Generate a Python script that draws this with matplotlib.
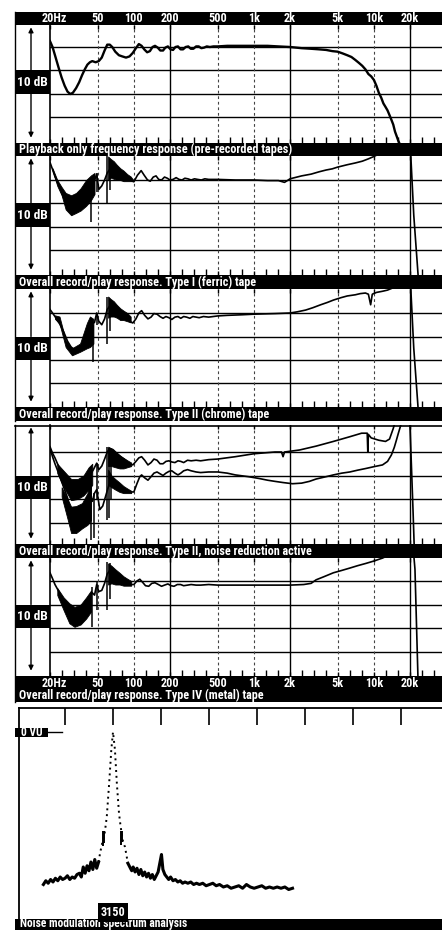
import numpy as np
import matplotlib.pyplot as plt
from matplotlib import font_manager
from matplotlib.patches import Rectangle

#the sheet uses a bold condensed face, take the narrowest one we can find
def pick_font():
    names = {f.name for f in font_manager.fontManager.ttflist}
    for fam in ['Liberation Sans Narrow', 'Roboto Condensed', 'Open Sans Condensed',
                'Noto Sans Condensed', 'DejaVu Sans Condensed']:
        if fam in names:
            return fam, 'normal'
    for f in font_manager.fontManager.ttflist:
        if 'condensed' in str(f.stretch).lower() or 'Narrow' in f.fname or 'Condensed' in f.fname:
            return f.name, f.stretch
    return 'Roboto', 'normal'

FONT, STRETCH = pick_font()
plt.rcParams['font.family'] = [FONT, 'DejaVu Sans']
plt.rcParams['font.stretch'] = STRETCH
plt.rcParams['font.weight'] = 'bold'

#-------------
#data
#-------------

FREQ_TICKS  = [20, 50, 100, 200, 500, 1000, 2000, 5000, 10000, 20000]
FREQ_LABELS = ['20Hz', '50', '100', '200', '500', '1k', '2k', '5k', '10k', '20k']
SOLID_GRID  = [200, 2000, 20000]
DASHED_GRID = [50, 100, 500, 1000, 5000, 10000]
THIRD_OCT   = [20, 25, 31.5, 40, 50, 63, 80, 100, 125, 160, 200, 250, 315, 400,
               500, 630, 800, 1000, 1250, 1600, 2000, 2500, 3150, 4000, 5000,
               6300, 8000, 10000, 12500, 16000, 20000, 25000, 31500]
DB_GRID     = [0, -2, -4, -6]

CAPTIONS = ['Playback only frequency response (pre-recorded tapes)',
            'Overall record/play response. Type I (ferric) tape',
            'Overall record/play response. Type II (chrome) tape',
            'Overall record/play response. Type II, noise reduction active',
            'Overall record/play response. Type IV (metal) tape']
NM_CAPTION = 'Noise modulation spectrum analysis'

#panel 1: playback only
PB_F  = [20, 21, 22, 23.5, 25, 26.5, 28, 29.5, 31, 33, 35, 37, 39, 41, 43, 45, 48, 51,
         54, 57, 60, 63, 66, 70, 75, 80, 86, 92, 98, 104, 110, 116, 122, 129, 136, 143,
         150, 158, 166, 175, 183, 192, 202, 212, 222, 233, 245, 257, 270, 284, 298, 313,
         330, 347, 365, 385, 405, 430, 460, 500, 600, 800, 1000, 1300, 1600, 2000, 2500,
         3000, 3500, 4000, 4500, 5000, 5500, 6000, 6500, 7000, 7500, 8000, 8500, 9000,
         9500, 10000, 10500, 11000, 11500, 12000, 12500, 13000, 13500, 14000, 14500,
         15000, 15500, 16000, 16500]
PB_DB = [0.5, 0.0, -0.7, -1.7, -2.6, -3.3, -3.8, -4.0, -3.9, -3.5, -3.0, -2.4, -1.9,
         -1.5, -1.3, -1.2, -1.3, -1.2, -0.9, -0.3, 0.2, 0.2, 0.0, -0.4, -0.7, -0.8, -0.9,
         -0.8, -0.5, -0.1, 0.25, 0.1, -0.2, -0.45, -0.35, 0.0, 0.1, -0.05, -0.3, -0.3,
         -0.05, 0.05, -0.2, -0.25, 0.0, 0.05, -0.2, -0.2, 0.0, 0.05, -0.15, -0.15, 0.05,
         0.05, -0.1, -0.05, 0.05, 0.0, 0.05, 0.05, 0.1, 0.1, 0.1, 0.1, 0.05, 0.0, -0.1,
         -0.15, -0.2, -0.25, -0.35, -0.4, -0.55, -0.7, -0.85, -1.1, -1.35, -1.6, -1.9,
         -2.3, -2.5, -2.8, -3.3, -3.9, -4.3, -4.8, -5.1, -5.4, -5.8, -6.2, -6.6, -7.2,
         -7.6, -8.0, -8.3]

#panel 2: type I ferric
FE_F  = [20, 21, 22, 24, 26, 28, 30, 33, 36, 40, 43, 46, 49, 51, 54, 57, 60, 63, 67, 72,
         78, 85, 92, 100, 107, 115, 122, 130, 137, 145, 153, 161, 170, 180, 190, 200,
         212, 225, 238, 252, 266, 282, 300, 320, 340, 365, 390, 420, 500, 700, 1000,
         1300, 1600, 1800, 1900, 2000, 2500, 3000, 3500, 4000, 4500, 5000, 6000, 7000,
         8000, 9000, 10000, 12000, 15000, 18000, 20000, 20300, 21500, 23400, 24500]
FE_DB = [1.5, 0.9, 0.3, -0.6, -1.5, -2.0, -2.2, -2.1, -1.8, -1.1, -0.7, -0.3, 0.5,
         -0.8, -0.5, 0.0, 0.6, 0.9, 0.8, 0.6, 0.4, 0.2, 0.0, -0.15, 0.4, 0.8, 0.4, 0.0,
         -0.1, 0.25, 0.35, 0.05, 0.0, 0.25, 0.15, 0.0, 0.05, 0.2, 0.05, 0.0, 0.15, 0.1,
         0.0, 0.1, 0.05, 0.0, 0.1, 0.05, 0.05, 0.0, 0.0, -0.05, -0.05, -0.2, -0.05, 0.1,
         0.35, 0.5, 0.7, 0.85, 0.95, 1.1, 1.3, 1.45, 1.6, 1.8, 2.0, 2.4, 2.8, 2.9, 2.6,
         2.1, -3.0, -8.2, -10.0]
FE_BAND_F  = [21, 23, 25, 27, 30, 33, 36, 40, 44, 47]
FE_BAND_HI = [1.0, 0.0, -0.6, -1.1, -1.3, -1.1, -0.7, 0.0, 0.4, 0.6]
FE_BAND_LO = [0.8, -0.5, -1.3, -2.5, -3.0, -2.8, -2.6, -2.2, -1.7, -1.2]
FE_BAND2_F  = [61, 64, 68, 72, 77, 82, 88, 94, 99]
FE_BAND2_HI = [2.0, 1.8, 1.6, 1.3, 1.0, 0.8, 0.5, 0.3, 0.0]
FE_BAND2_LO = [0.0, 0.2, 0.1, 0.0, 0.0, -0.1, -0.1, -0.1, -0.1]
FE_SPIKE_F  = [44.3, 49, 60, 63]
FE_SPIKE_LO = [-3.6, -1.0, -2.0, -0.85]
FE_SPIKE_HI = [-0.5, 0.6, 2.0, 1.7]

#panel 3: type II chrome
CR_F  = [20, 21, 22, 24, 26, 28, 30, 33, 36, 40, 43, 45, 47, 49, 51, 54, 57, 60, 63, 67,
         72, 78, 85, 92, 98, 104, 110, 116, 123, 131, 139, 147, 156, 165, 175, 185, 196,
         207, 220, 233, 246, 260, 275, 293, 310, 330, 350, 380, 420, 500, 600, 800,
         1000, 1500, 2000, 2300, 2700, 3100, 3600, 4100, 4600, 5300, 6000, 7000, 7700,
         8500, 9000, 9400, 9700, 10500, 11800, 13000, 14100, 16000, 19000, 20300, 21500,
         23400, 24500]
CR_DB = [0.3, 0.0, -0.3, -0.9, -1.6, -2.4, -2.9, -3.2, -3.0, -2.2, -1.4, -0.9, -0.8,
         0.0, -0.7, -1.0, -0.5, 0.3, 0.6, 0.5, 0.2, -0.1, -0.4, -0.7, -0.85, -0.5, 0.0,
         0.2, -0.2, -0.5, -0.35, -0.05, -0.1, -0.3, -0.45, -0.3, -0.4, -0.55, -0.35,
         -0.3, -0.45, -0.3, -0.35, -0.45, -0.3, -0.35, -0.4, -0.3, -0.35, -0.25, -0.2,
         -0.15, -0.1, -0.05, 0.0, 0.1, 0.25, 0.45, 0.7, 0.9, 1.1, 1.3, 1.45, 1.55, 1.65,
         1.7, 1.6, 0.7, 1.6, 1.75, 1.85, 1.95, 2.1, 2.5, 2.8, 2.1, -3.0, -8.2, -10.0]
CR_BAND_F  = [22, 24, 27, 30.5, 35.6, 40.6, 43, 46]
CR_BAND_HI = [-0.2, -0.3, -2.3, -3.0, -2.6, -0.85, -0.3, -0.5]
CR_BAND_LO = [-0.5, -0.9, -2.9, -3.6, -3.3, -3.0, -2.9, -2.6]
CR_BAND2_F  = [61, 64, 68, 72, 77, 82, 88, 94]
CR_BAND2_HI = [1.4, 1.2, 1.0, 0.7, 0.4, 0.2, 0.0, -0.3]
CR_BAND2_LO = [-0.4, -0.3, -0.3, -0.4, -0.6, -0.6, -0.7, -0.8]
CR_SPIKE_F  = [45.4, 49, 60, 63]
CR_SPIKE_LO = [-4.2, -1.0, -2.6, -1.5]
CR_SPIKE_HI = [-1.0, 0.0, 1.4, 1.2]

#panel 4: type II with noise reduction, two traces
NRA_F  = [20, 21, 22, 24, 26, 28, 30, 33, 36, 40, 43, 46, 49, 51, 54, 57, 60, 63, 67,
          72, 78, 85, 92, 98, 104, 110, 116, 123, 131, 139, 147, 156, 165, 175, 185,
          196, 207, 220, 233, 246, 260, 280, 300, 330, 360, 420, 500, 700, 1000, 1500,
          1700, 1750, 1800, 2400, 3300, 4600, 6300, 7900, 8800, 8900, 9000, 9500, 11000,
          12500, 13500, 14500, 15500, 19500, 20000, 21200, 22000]
NRA_DB = [0.45, -0.1, -0.5, -1.4, -2.0, -2.6, -3.1, -3.2, -3.0, -2.6, -2.0, -1.5,
          -0.95, -1.5, -1.2, -0.6, 0.0, 0.3, 0.2, -0.1, -0.4, -0.7, -1.0, -1.1, -0.8,
          -0.5, -0.4, -0.7, -1.1, -0.9, -0.6, -0.7, -1.0, -1.0, -0.8, -0.75, -0.85,
          -0.9, -0.75, -0.8, -0.9, -0.7, -0.75, -0.7, -0.75, -0.65, -0.6, -0.4, -0.15,
          0.0, 0.0, -0.4, 0.0, 0.17, 0.5, 0.9, 1.3, 1.6, 1.6, 0.0, 1.5, 1.2, 1.0, 0.9,
          1.1, 2.0, 3.0, 3.0, 2.2, -5.0, -10.0]
NRB_F  = [20, 21, 22, 24, 26, 28, 30, 33, 36, 40, 43, 45, 47, 49, 52, 55, 58, 62, 66,
          72, 78, 85, 92, 100, 106, 112, 116, 123, 131, 139, 147, 156, 165, 175, 185,
          196, 207, 220, 233, 246, 260, 280, 300, 330, 360, 420, 500, 600, 700, 900,
          1100, 1300, 1500, 1750, 2100, 2500, 2900, 3300, 4000, 4600, 5400, 6300, 7300,
          8600, 10000, 11800, 13000, 14000, 14800, 15400, 16000, 17000]
NRB_DB = [0.3, -0.4, -1.0, -2.0, -3.0, -3.9, -5.4, -5.7, -5.5, -5.0, -3.6, -4.2, -3.5,
          -3.2, -4.9, -4.6, -3.8, -2.8, -2.5, -2.8, -3.0, -3.2, -3.4, -3.4, -2.7, -2.1,
          -1.95, -2.2, -2.4, -2.1, -1.8, -1.7, -1.85, -2.0, -1.8, -1.65, -1.6, -1.8,
          -1.95, -1.8, -1.6, -1.5, -1.6, -1.7, -1.75, -1.7, -1.7, -1.8, -1.95, -2.1,
          -2.25, -2.4, -2.5, -2.6, -2.7, -2.65, -2.5, -2.3, -2.1, -1.95, -1.8, -1.7,
          -1.55, -1.4, -1.25, -1.1, -0.8, -0.25, 0.4, 1.0, 1.6, 2.5]
NRA_BAND_F  = [23, 26, 30, 34, 38, 42, 45]
NRA_BAND_HI = [-1.0, -1.6, -2.3, -2.3, -2.0, -1.3, -1.0]
NRA_BAND_LO = [-1.8, -3.0, -4.1, -4.0, -3.7, -3.2, -2.8]
NRB_BAND_F  = [25, 28, 30, 33, 37, 41, 44]
NRB_BAND_HI = [-3.0, -4.0, -4.65, -4.6, -4.35, -3.5, -2.4]
NRB_BAND_LO = [-3.8, -5.7, -6.9, -6.9, -6.5, -6.2, -5.8]
NRA_BAND2_F  = [61, 65, 70, 76, 82, 88, 95]
NRA_BAND2_HI = [0.45, 0.3, 0.0, -0.3, -0.5, -0.7, -0.9]
NRA_BAND2_LO = [-1.2, -1.2, -1.3, -1.4, -1.4, -1.3, -1.2]
NRB_BAND2_F  = [61, 65, 70, 76, 82, 88, 95]
NRB_BAND2_HI = [-1.5, -2.0, -2.3, -2.6, -2.9, -3.1, -3.3]
NRB_BAND2_LO = [-2.8, -3.0, -3.2, -3.4, -3.5, -3.5, -3.5]
NR_SPIKE_F  = [44.3, 46.5, 49, 60, 62, 64]
NR_SPIKE_LO = [-7.5, -7.3, -4.0, -5.8, -5.6, -4.0]
NR_SPIKE_HI = [-2.5, -3.5, -0.95, 0.45, 0.3, 0.2]

#panel 5: type IV metal
ME_F  = [20, 21, 22, 24, 26, 28, 30, 33, 36, 40, 43, 45, 47, 49, 51, 54, 57, 60, 63, 67,
         72, 78, 85, 92, 100, 106, 112, 118, 125, 133, 141, 150, 160, 170, 180, 192, 204,
         216, 230, 245, 260, 280, 300, 330, 360, 420, 500, 700, 1000, 1500, 2000, 2600,
         3000, 3300, 3800, 4600, 5400, 6300, 7300, 8600, 10000, 11800, 14000, 18000,
         21500, 22000, 23300, 24500]
ME_DB = [0.7, 0.2, -0.3, -1.0, -1.7, -2.3, -2.7, -2.9, -2.7, -2.0, -1.4, -1.0, -1.2,
         -0.3, -0.9, -0.8, -0.2, 0.6, 0.9, 0.7, 0.4, 0.1, -0.1, -0.3, -0.3, 0.0, 0.15,
         -0.1, -0.4, -0.45, -0.2, -0.15, -0.3, -0.45, -0.35, -0.25, -0.4, -0.45, -0.3,
         -0.3, -0.4, -0.35, -0.3, -0.35, -0.35, -0.3, -0.35, -0.35, -0.35, -0.35, -0.35,
         -0.3, -0.2, 0.1, 0.35, 0.7, 0.9, 1.1, 1.3, 1.5, 1.7, 1.95, 2.3, 2.6, 2.2, 1.0,
         -8.2, -10.0]
ME_BAND_F  = [23, 26, 29, 32, 36, 40, 44]
ME_BAND_HI = [-0.6, -1.4, -1.9, -2.2, -2.0, -1.4, -0.8]
ME_BAND_LO = [-1.2, -2.5, -3.6, -3.9, -3.7, -3.2, -2.6]
ME_BAND2_F  = [61, 65, 70, 76, 82, 88, 95]
ME_BAND2_HI = [1.5, 1.3, 1.0, 0.7, 0.4, 0.2, 0.0]
ME_BAND2_LO = [-0.3, -0.2, -0.3, -0.3, -0.4, -0.4, -0.4]
ME_SPIKE_F  = [45, 49.5, 60, 63]
ME_SPIKE_LO = [-3.9, -2.5, -2.5, -1.5]
ME_SPIKE_HI = [-0.5, 0.0, 1.6, 1.5]

#panel 6: noise modulation spectrum (x in graticule divisions, 0 = 3150 Hz)
NM_TICKS = [-1, 0, 1, 2, 3, 4, 5, 6]
NM_CENTRE_LABEL = '3150'
NM_LEFT_X  = [-1.45, -1.40, -1.35, -1.30, -1.25, -1.20, -1.15, -1.10, -1.05, -1.00,
              -0.95, -0.90, -0.85, -0.80, -0.75, -0.70, -0.66, -0.62, -0.58, -0.54,
              -0.50, -0.46, -0.42, -0.38, -0.34, -0.30]
NM_LEFT_DB = [-61, -59.5, -60.5, -59, -60, -58.5, -59.5, -58, -59, -58.5, -57.5, -59,
              -58, -58.5, -57, -56.5, -58, -54, -56.5, -53.5, -55.5, -52, -55, -51,
              -54.5, -52]
NM_PEAK_X  = [-0.30, -0.27, -0.22, -0.17, -0.13, -0.08, -0.035, 0.0, 0.04, 0.08, 0.125,
              0.16, 0.21, 0.25, 0.31]
NM_PEAK_DB = [-52, -48.5, -44, -40, -34, -20.5, -7, 0, -7, -20.5, -32.5, -38, -44, -46,
              -52.5]
NM_V_X    = [-0.21, -0.19, 0.17, 0.19]
NM_V_TOP  = [-39.5, -39.5, -39.5, -39.5]
NM_V_BOT  = [-45.5, -44.5, -45.0, -44.0]
NM_RIGHT_X  = [0.31, 0.35, 0.39, 0.42, 0.46, 0.50, 0.54, 0.58, 0.62, 0.66, 0.70, 0.74,
               0.78, 0.82, 0.86, 0.90, 0.94, 0.98, 1.01, 1.04, 1.08, 1.12, 1.16, 1.20,
               1.25, 1.30, 1.35, 1.40, 1.45, 1.50, 1.56, 1.62, 1.68, 1.74, 1.80, 1.87,
               1.94, 2.01, 2.08, 2.15, 2.22, 2.30, 2.38, 2.46, 2.54, 2.62, 2.70, 2.78,
               2.86, 2.94, 3.02, 3.10, 3.18, 3.26, 3.34, 3.42, 3.50, 3.58, 3.66, 3.74]
NM_RIGHT_DB = [-52.5, -54, -55.5, -54, -56, -54.5, -57, -55, -57.5, -56, -58, -56.5,
               -58.5, -57, -59, -57.5, -56, -52, -49, -55, -57, -58, -59, -58, -59.5,
               -59, -60, -59.5, -60.5, -60, -60.5, -60, -61, -60.5, -61, -60.5, -61.5,
               -61, -60.5, -61.5, -61, -62, -61.5, -62.5, -62, -61.5, -62.5, -61, -62,
               -62.5, -62, -61.5, -62.5, -62, -62.5, -62, -62.5, -62, -63, -62.5]


#-------------
#layout (pixels of a 442 x 930 sheet)
#-------------
W, H = 442, 930
X_FRAME = 15
X_PLOT = 50           #20 Hz line
PX_PER_DECADE = 120
DB_PER_PX = 2 / 23.5
F_MAX = 20 * 10 ** ((W - X_PLOT) / PX_PER_DECADE)

#(top, bottom, y of 0 dB line)
PANELS = [(25, 143, 47), (156, 275, 180), (289, 407, 313), (425, 544, 452), (558, 676, 581)]
BARS = [(12, 25), (143, 156), (275, 289), (407, 421), (544, 558), (676, 702), (919, 930)]
CAPTION_Y = [149.5, 282, 414, 551, 695.5]
CAPTION_W = [272, 237, 250, 294, 245]   #printed width of each caption

fig = plt.figure(figsize=(W / 100, H / 100), dpi=100)
renderer = fig.canvas.get_renderer()

def px_axes(x0, y0, x1, y1, **kw):
    return fig.add_axes([x0 / W, 1 - y1 / H, (x1 - x0) / W, (y1 - y0) / H], **kw)

def fit_width(t, width):
    #scale the font so the text is as wide as on the sheet
    w = t.get_window_extent(renderer).width
    t.set_fontsize(t.get_fontsize() * width / w)
    return width / w

#background sheet with black caption bars
ov = px_axes(0, 0, W, H, zorder=0)
ov.set_xlim(0, W)
ov.set_ylim(H, 0)
ov.axis('off')
for y0, y1 in BARS:
    ov.add_patch(Rectangle((X_FRAME, y0), W - X_FRAME, y1 - y0, color='black', lw=0))
ov.plot([X_FRAME, X_FRAME], [12, 421], color='black', lw=1.0)
ov.plot([X_FRAME, X_FRAME], [425, 702], color='black', lw=1.0)
ov.plot([X_FRAME, W], [425.5, 425.5], color='black', lw=1.2)
scales = []
for text, y, wid in zip(CAPTIONS, CAPTION_Y, CAPTION_W):
    t = ov.text(19, y, text, color='white', fontsize=8, fontweight='bold',
                ha='left', va='center')
    scales.append(fit_width(t, wid))
#common size for the short labels
TXT = 8 * float(np.median(scales))

#last caption sits in a thin strip at the very bottom
t = ov.text(20, 927.3, NM_CAPTION, color='white', fontsize=8, fontweight='bold',
            ha='left', va='baseline')
fit_width(t, 168)

#0 VU marker of the spectrum panel
ov.add_patch(Rectangle((X_FRAME, 727.5), 33, 9.5, color='black', lw=0))
ov.text(31.5, 732.5, '0 VU', color='white', fontsize=TXT * 0.95, fontweight='bold',
        ha='center', va='center')
ov.plot([48, 62], [732, 732], color='black', lw=1.0)


def freq_panel(top, bottom, y0):
    ax = px_axes(X_PLOT, top, W, bottom, zorder=1)
    ax.set_facecolor('none')
    ax.set_xscale('log')
    ax.set_xlim(20, F_MAX)
    ax.set_ylim((y0 - bottom) * DB_PER_PX, (y0 - top) * DB_PER_PX)
    for s in ['top', 'right', 'bottom']:
        ax.spines[s].set_visible(False)
    ax.spines['left'].set_linewidth(1.2)
    for d in DB_GRID:
        ax.axhline(d, color='black', lw=1.0, zorder=1)
    for f in SOLID_GRID:
        ax.axvline(f, color='black', lw=1.0, zorder=1)
    for f in DASHED_GRID:
        ax.axvline(f, color='#444444', lw=0.8, ls=(0, (2.5, 2.5)), zorder=1)
    ax.set_xticks(FREQ_TICKS)
    ax.set_xticks(THIRD_OCT, minor=True)
    ax.set_xticklabels([])
    ax.tick_params(axis='x', which='major', top=True, bottom=True, direction='in',
                   length=3, width=1.0)
    ax.tick_params(axis='x', which='minor', top=False, bottom=True, direction='in',
                   length=4, width=1.0, labelbottom=False)
    ax.set_yticks([])

    #10 dB scale box and arrow at the left
    trans = ax.get_yaxis_transform()
    bw = (X_PLOT - X_FRAME) / (W - X_PLOT)
    xa = -19 / (W - X_PLOT)
    ax.add_patch(Rectangle((-bw, -4), bw, 2, transform=trans, color='black',
                           clip_on=False, lw=0))
    t = ax.text(-bw / 2, -3, '10 dB', transform=trans, color='white', fontsize=TXT * 1.1,
                fontweight='bold', ha='center', va='center')
    if t.get_window_extent(renderer).width > 31:
        fit_width(t, 31)
    ylo, yhi = ax.get_ylim()
    arrow = dict(arrowstyle='-|>', color='black', lw=1.0, mutation_scale=7,
                 shrinkA=0, shrinkB=0)
    ax.annotate('', xy=(xa, yhi - 0.2), xytext=(xa, -2), xycoords=trans,
                textcoords=trans, arrowprops=arrow, annotation_clip=False)
    ax.annotate('', xy=(xa, ylo + 0.45), xytext=(xa, -4), xycoords=trans,
                textcoords=trans, arrowprops=arrow, annotation_clip=False)
    return ax


def freq_labels(ax, y_off):
    for f, lab in zip(FREQ_TICKS, FREQ_LABELS):
        dx = 4.5 if lab == '20Hz' else 0
        ax.annotate(lab, xy=(f, 1 if y_off > 0 else 0), xycoords=ax.get_xaxis_transform(),
                    xytext=(dx, y_off), textcoords='offset pixels', color='white',
                    fontsize=TXT, fontweight='bold', ha='center', va='center',
                    annotation_clip=False)


def trace(ax, f, db, lw=1.2):
    ax.plot(f, db, color='black', lw=lw, zorder=3, solid_joinstyle='round')


def band(ax, f, hi, lo):
    ax.fill_between(f, lo, hi, color='black', lw=0.6, zorder=3)


def spikes(ax, f, lo, hi):
    ax.vlines(f, lo, hi, color='black', lw=1.1, zorder=3)


axes = [freq_panel(*p) for p in PANELS]

ax1, ax2, ax3, ax4, ax5 = axes
trace(ax1, PB_F, PB_DB, lw=1.7)

trace(ax2, FE_F, FE_DB)
band(ax2, FE_BAND_F, FE_BAND_HI, FE_BAND_LO)
band(ax2, FE_BAND2_F, FE_BAND2_HI, FE_BAND2_LO)
spikes(ax2, FE_SPIKE_F, FE_SPIKE_LO, FE_SPIKE_HI)

trace(ax3, CR_F, CR_DB)
band(ax3, CR_BAND_F, CR_BAND_HI, CR_BAND_LO)
band(ax3, CR_BAND2_F, CR_BAND2_HI, CR_BAND2_LO)
spikes(ax3, CR_SPIKE_F, CR_SPIKE_LO, CR_SPIKE_HI)

trace(ax4, NRA_F, NRA_DB)
trace(ax4, NRB_F, NRB_DB)
band(ax4, NRA_BAND_F, NRA_BAND_HI, NRA_BAND_LO)
band(ax4, NRB_BAND_F, NRB_BAND_HI, NRB_BAND_LO)
band(ax4, NRA_BAND2_F, NRA_BAND2_HI, NRA_BAND2_LO)
band(ax4, NRB_BAND2_F, NRB_BAND2_HI, NRB_BAND2_LO)
spikes(ax4, NR_SPIKE_F, NR_SPIKE_LO, NR_SPIKE_HI)

trace(ax5, ME_F, ME_DB)
band(ax5, ME_BAND_F, ME_BAND_HI, ME_BAND_LO)
band(ax5, ME_BAND2_F, ME_BAND2_HI, ME_BAND2_LO)
spikes(ax5, ME_SPIKE_F, ME_SPIKE_LO, ME_SPIKE_HI)

freq_labels(ax1, 6.5)
freq_labels(ax5, -7)

#-------------
#noise modulation spectrum
#-------------
NM_X0, NM_PX_PER_DIV, NM_Y0, NM_PX_PER_DB = 113, 48, 732, 2.5
NM_LEFT, NM_TOP, NM_BOTTOM = 19, 708, 919
ax6 = px_axes(NM_LEFT, NM_TOP, W, NM_BOTTOM, zorder=1)
ax6.set_facecolor('none')
ax6.set_xlim((NM_LEFT - NM_X0) / NM_PX_PER_DIV, (W - NM_X0) / NM_PX_PER_DIV)
ax6.set_ylim((NM_Y0 - NM_BOTTOM) / NM_PX_PER_DB, (NM_Y0 - NM_TOP) / NM_PX_PER_DB)
for s in ['right', 'bottom']:
    ax6.spines[s].set_visible(False)
ax6.spines['top'].set_linewidth(1.3)
ax6.spines['left'].set_linewidth(1.3)
ax6.set_xticks(NM_TICKS)
ax6.set_xticklabels([])
ax6.set_yticks([])
ax6.tick_params(axis='x', top=True, bottom=False, direction='in', length=12.5, width=1.2)

ax6.plot(NM_LEFT_X, NM_LEFT_DB, color='black', lw=2.2)
ax6.plot(NM_RIGHT_X, NM_RIGHT_DB, color='black', lw=2.2)
ax6.plot(NM_PEAK_X, NM_PEAK_DB, color='black', lw=1.4, ls=(0, (1, 2)))
ax6.vlines(NM_V_X, NM_V_BOT, NM_V_TOP, color='black', lw=1.4)
ax6.text(0, 0, NM_CENTRE_LABEL, transform=ax6.get_xaxis_transform(), color='white',
         fontsize=TXT, fontweight='bold', ha='center', va='bottom',
         bbox=dict(boxstyle='square,pad=0.25', fc='black', ec='none'))

fig.savefig('out.png', dpi=100)
